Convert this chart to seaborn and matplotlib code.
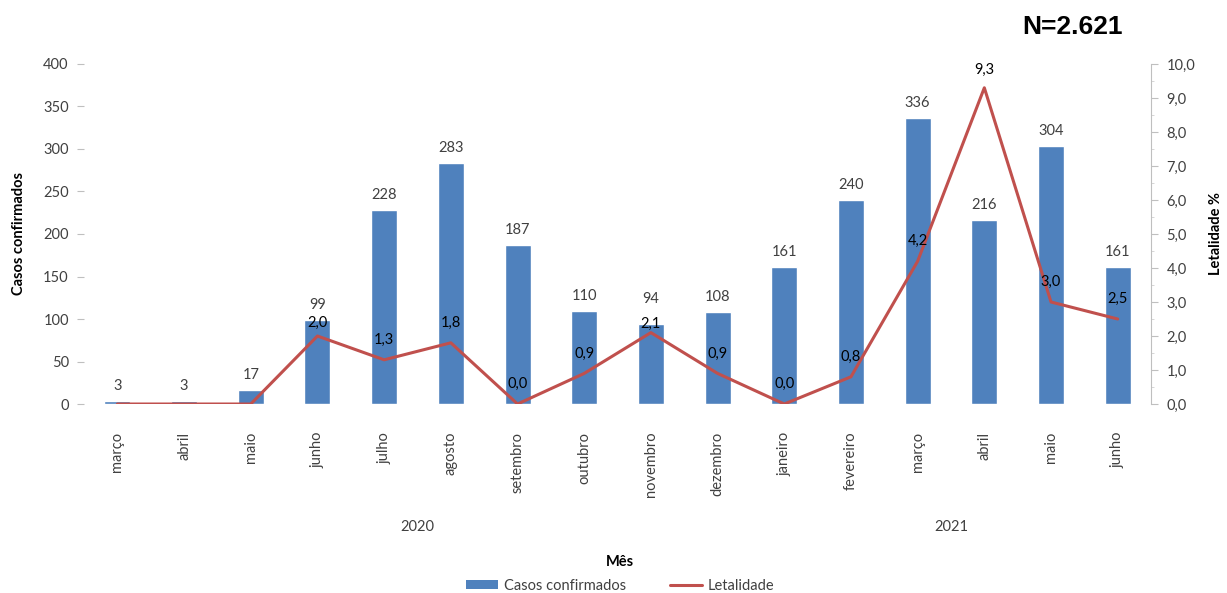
import numpy as np
import pandas as pd
import matplotlib
matplotlib.use("Agg")
import matplotlib.pyplot as plt
import matplotlib.transforms as mtransforms
from matplotlib.ticker import MultipleLocator, FuncFormatter
from matplotlib.lines import Line2D
from matplotlib.patches import Patch
import seaborn as sns

# Monthly confirmed cases and case fatality rate (%)
meses = ["março", "abril", "maio", "junho", "julho", "agosto", "setembro",
         "outubro", "novembro", "dezembro", "janeiro", "fevereiro", "março",
         "abril", "maio", "junho"]
anos = ["2020"] * 10 + ["2021"] * 6
casos = [3, 3, 17, 99, 228, 283, 187, 110, 94, 108, 161, 240, 336, 216, 304, 161]
letalidade = [0.0, 0.0, 0.0, 2.0, 1.3, 1.8, 0.0, 0.9, 2.1, 0.9, 0.0, 0.8,
              4.2, 9.3, 3.0, 2.5]
mostrar_rotulo = [False, False, False] + [True] * 13
total = "N=2.621"

AZUL = "#4F81BD"
VERMELHO = "#C0504D"
CINZA_TXT = "#404040"

sns.set_theme(style="white")
plt.rcParams["font.family"] = ["Lato", "DejaVu Sans"]

fig = plt.figure(figsize=(12.27, 5.93), dpi=100)
ax = fig.add_axes([0.0685, 0.3187, 0.8696, 0.5734])

df = pd.DataFrame({"pos": np.arange(len(casos)), "casos": casos,
                   "letalidade": letalidade})

sns.barplot(data=df, x="pos", y="casos", color=AZUL, saturation=1,
            width=0.39, ax=ax)

# value labels above the bars (a few nudged to keep clear of the line labels)
ajuste_barra = {8: 18.0}
for i, c in enumerate(casos):
    ax.annotate(str(c), (i, c), xytext=(0, ajuste_barra.get(i, 10.8)),
                textcoords="offset points", ha="center", va="center",
                fontsize=10.5, color=CINZA_TXT)

ax.set_xlim(-0.5, len(casos) - 0.5)
ax.set_ylim(0, 400)
ax.yaxis.set_major_locator(MultipleLocator(50))
ax.set_xticks(np.arange(len(meses)))
ax.set_xticklabels(meses, rotation=90, fontsize=10.5, color=CINZA_TXT)
ax.tick_params(axis="x", length=0, pad=20)
ax.tick_params(axis="y", left=True, length=5, width=0.8, color="#bfbfbf",
               labelsize=10.5, labelcolor=CINZA_TXT, pad=6)
for s in ax.spines.values():
    s.set_visible(False)
ax.set_xlabel("")
ax.set_ylabel("Casos confirmados", fontsize=10.5, fontweight="bold",
              color="black", labelpad=12)

ax2 = ax.twinx()
sns.lineplot(data=df, x="pos", y="letalidade", color=VERMELHO, lw=2.2,
             ax=ax2, legend=False)
ax2.set_xlim(-0.5, len(casos) - 0.5)
ax2.set_ylim(0, 10)
ax2.yaxis.set_major_locator(MultipleLocator(1))
ax2.yaxis.set_minor_locator(MultipleLocator(0.5))
ax2.yaxis.set_major_formatter(FuncFormatter(lambda v, _: f"{v:.1f}".replace(".", ",")))
for name, s in ax2.spines.items():
    s.set_visible(name == "right")
ax2.spines["right"].set_color("#bfbfbf")
ax2.spines["right"].set_linewidth(0.8)
ax2.tick_params(axis="y", which="major", right=True, length=5, width=0.8,
                color="#bfbfbf", labelsize=10.5, labelcolor=CINZA_TXT, pad=6)
ax2.tick_params(axis="y", which="minor", right=True, length=2.5, width=0.6,
                color="#d0d0d0")
ax2.set_ylabel("Letalidade %", fontsize=10.5, fontweight="bold", color="black",
               labelpad=10)
ax2.set_xlabel("")

# rate labels above the line points
ajuste_linha = {3: 9.4, 8: 6.5, 13: 13.0}
for i, (v, show) in enumerate(zip(letalidade, mostrar_rotulo)):
    if show:
        ax2.annotate(f"{v:.1f}".replace(".", ","), (i, v),
                     xytext=(0, ajuste_linha.get(i, 14.4)),
                     textcoords="offset points", ha="center", va="center",
                     fontsize=10.5, color="black")

# Year group labels under the month names
trans = mtransforms.blended_transform_factory(ax.transData, fig.transFigure)
for ano in ["2020", "2021"]:
    idx = [i for i, a in enumerate(anos) if a == ano]
    ax.text((idx[0] + idx[-1]) / 2, 1 - 527 / 593, ano, transform=trans,
            ha="center", va="center", fontsize=10.5, color=CINZA_TXT)

fig.text(620 / 1227, 1 - 562 / 593, "Mês", ha="center", va="center",
         fontsize=10.5, fontweight="bold", color="black")

handles = [Patch(facecolor=AZUL, edgecolor="none", label="Casos confirmados"),
           Line2D([0], [0], color=VERMELHO, lw=2.2, label="Letalidade")]
fig.legend(handles=handles, loc="center", bbox_to_anchor=(620 / 1227, 1 - 586 / 593),
           ncol=2, frameon=False, fontsize=10.5, handlelength=2.2,
           handleheight=0.6, columnspacing=3.0, handletextpad=0.4,
           labelcolor=CINZA_TXT)

fig.text(1072 / 1227, 1 - 27 / 593, total, ha="center", va="center",
         fontsize=19, fontweight="bold", family="Liberation Sans", color="black")

fig.savefig("out.png", dpi=100)
